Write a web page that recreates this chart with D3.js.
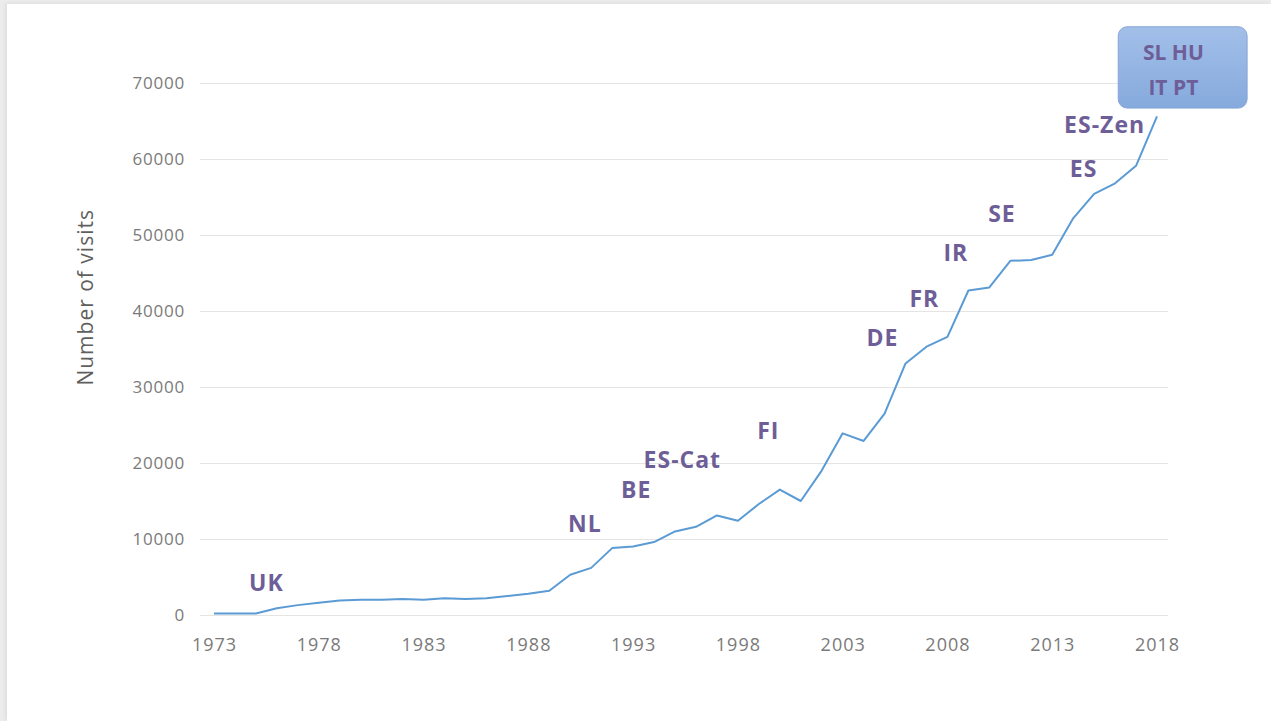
<!DOCTYPE html>
<html>
<head>
<meta charset="utf-8">
<script src="https://cdn.jsdelivr.net/npm/d3@7"></script>
<style>
  html, body { margin: 0; padding: 0; background: #ececec; }
  #frame { position: absolute; left: 7px; top: 4px; width: 1264px; height: 717px; background: #fff; box-shadow: -2px -1px 4px rgba(0,0,0,0.06); }
  svg { position: absolute; left: 0; top: 0; }
</style>
</head>
<body>
<div id="frame"></div>
<svg id="chart" width="1271" height="721"></svg>
<script>
// ---- data ----
const years = [1973,1974,1975,1976,1977,1978,1979,1980,1981,1982,1983,1984,1985,1986,1987,1988,1989,1990,1991,1992,1993,1994,1995,1996,1997,1998,1999,2000,2001,2002,2003,2004,2005,2006,2007,2008,2009,2010,2011,2012,2013,2014,2015,2016,2017,2018];
const visits = [200,200,200,900,1300,1600,1900,2000,2000,2100,2000,2200,2100,2200,2500,2800,3200,5300,6200,8800,9000,9600,11000,11600,13100,12400,14600,16500,15000,19000,23900,22900,26500,33100,35300,36600,42700,43100,46600,46700,47400,52200,55400,56800,59100,65600];
const xTicks = [1973,1978,1983,1988,1993,1998,2003,2008,2013,2018];
const yTicks = [0,10000,20000,30000,40000,50000,60000,70000];
const labelText = ["UK","NL","BE","ES-Cat","FI","DE","FR","IR","SE","ES","ES-Zen"];
const labelYear = [1975.5,1990.7,1993.15,1995.35,1999.45,2004.9,2006.9,2008.4,2010.6,2014.5,2015.5];
const labelValue = [4400,12100,16550,20500,24300,36550,41700,47750,52900,58800,64600];
const boxRows = ["SL HU","IT PT"];
const boxRowValue = [74100,69500];
const boxYearRange = [2016.15, 2022.3];
const boxValueRange = [66700, 77400];
const yTitle = "Number of visits";

// ---- scales ----
const svg = d3.select("#chart");
const x = d3.scaleLinear().domain([1973, 2018]).range([214, 1157]);
const y = d3.scaleLinear().domain([0, 70000]).range([615, 83]);

const purple = "#6e5e98";

// gridlines
svg.append("g")
  .attr("transform", "translate(200,0)")
  .call(d3.axisLeft(y).tickValues(yTicks).tickSize(-968).tickFormat(""))
  .call(g => g.select(".domain").remove())
  .call(g => g.selectAll("line").attr("stroke", "#e4e4e4").attr("stroke-width", 1));

// y tick labels
svg.append("g")
  .attr("transform", "translate(185,0)")
  .call(d3.axisLeft(y).tickValues(yTicks).tickSize(0).tickPadding(0).tickFormat(d3.format("d")))
  .call(g => g.select(".domain").remove())
  .call(g => g.selectAll("text").attr("fill", "#7a7a7a").style("font-family", "'Open Sans', sans-serif").style("font-size", "17px").style("letter-spacing", "0.8px"));

// x tick labels
svg.append("g")
  .attr("transform", "translate(0,638)")
  .call(d3.axisBottom(x).tickValues(xTicks).tickSize(0).tickPadding(0).tickFormat(d3.format("d")))
  .call(g => g.select(".domain").remove())
  .call(g => g.selectAll("text").attr("fill", "#7a7a7a").style("font-family", "'Open Sans', sans-serif").style("font-size", "18px").style("letter-spacing", "1px"));

// y title
svg.append("text")
  .attr("transform", `translate(93,${y(41800)}) rotate(-90)`)
  .attr("text-anchor", "middle")
  .attr("fill", "#5f5f5f")
  .style("font-family", "'Open Sans', sans-serif")
  .style("font-size", "21px")
  .style("letter-spacing", "1px")
  .text(yTitle);

// line
const line = d3.line().x((d, i) => x(years[i])).y(d => y(d));
svg.append("path")
  .datum(visits)
  .attr("fill", "none")
  .attr("stroke", "#5b9bd5")
  .attr("stroke-width", 2)
  .attr("stroke-linejoin", "round")
  .attr("d", line);

// annotations
svg.append("g").selectAll("text")
  .data(labelText)
  .join("text")
  .attr("x", (d, i) => x(labelYear[i]))
  .attr("y", (d, i) => y(labelValue[i]))
  .attr("text-anchor", "middle")
  .attr("dominant-baseline", "central")
  .attr("fill", purple)
  .style("font-family", "'Open Sans', sans-serif")
  .style("font-weight", "bold")
  .style("font-size", "23px")
  .style("letter-spacing", "1px")
  .text(d => d);

// box
const defs = svg.append("defs");
const grad = defs.append("linearGradient").attr("id", "boxGrad").attr("x1", 0).attr("y1", 0).attr("x2", 0).attr("y2", 1);
grad.append("stop").attr("offset", "0%").attr("stop-color", "#a2bfe9");
grad.append("stop").attr("offset", "100%").attr("stop-color", "#86aadd");
svg.append("rect")
  .attr("x", x(boxYearRange[0]))
  .attr("y", y(boxValueRange[1]))
  .attr("width", x(boxYearRange[1]) - x(boxYearRange[0]))
  .attr("height", y(boxValueRange[0]) - y(boxValueRange[1]))
  .attr("rx", 9)
  .attr("fill", "url(#boxGrad)")
  .attr("stroke", "#86a6d6")
  .attr("stroke-width", 1);
svg.append("g").selectAll("text")
  .data(boxRows)
  .join("text")
  .attr("x", x(2018.78))
  .attr("y", (d, i) => y(boxRowValue[i]))
  .attr("text-anchor", "middle")
  .attr("dominant-baseline", "central")
  .attr("fill", purple)
  .style("font-family", "'Open Sans', sans-serif")
  .style("font-weight", "bold")
  .style("font-size", "21px")
  .text(d => d);
</script>
</body>
</html>
